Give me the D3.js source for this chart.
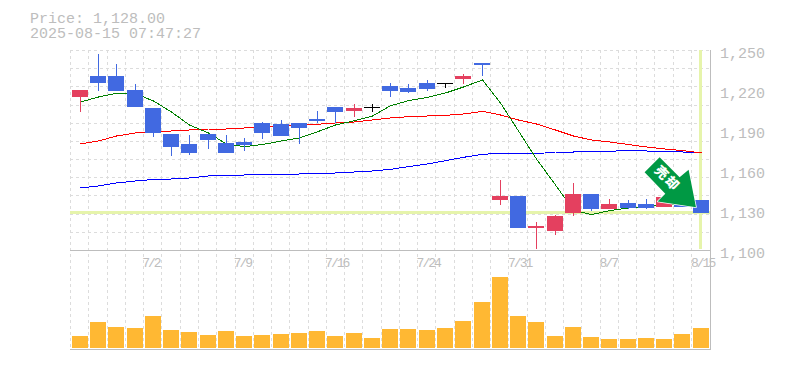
<!DOCTYPE html>
<html><head><meta charset="utf-8">
<style>html,body{margin:0;padding:0;background:#fff}svg{display:block}</style>
<script src="https://cdn.jsdelivr.net/npm/d3@7"></script></head>
<body><svg id="c" width="785" height="370"></svg>
<script>
const dateLabels = {4:"7/2",9:"7/9",14:"7/16",19:"7/24",24:"7/31",29:"8/7",34:"8/15"};
const open  = [1214.75,1230.5,1230.5,1220,1206.5,1187,1179.5,1187,1180.25,1181,1195.25,1194.5,1195.25,1198.25,1207.25,1204.25,1207.25,1223,1221.5,1225.25,1225.25,1228.25,1240.25,1137.5,1140.5,1116.5,1114.25,1127.75,1142,1130.75,1135.25,1134.5,1132.25,1136,1137.5];
const close = [1220,1225.25,1219.25,1207.25,1187.75,1177.25,1172.75,1182.5,1172.75,1178.75,1187.75,1185.5,1191.5,1196.75,1203.5,1206.5,1207.25,1219.25,1218.5,1220.75,1225.25,1230.5,1238.75,1140.5,1116.5,1118,1125.5,1142,1130.75,1134.5,1131.5,1131.5,1139.75,1132,1128];
const high  = [1220,1247,1239.5,1224.5,1206.5,1187,1186.25,1187,1186.25,1184,1196,1197.5,1195.25,1204.25,1207.25,1209.5,1209.5,1225.25,1224.5,1227.5,1225.25,1232,1240.25,1152.5,1140.5,1121,1126.25,1150.25,1142,1138.25,1137.5,1138.25,1139.75,1136,1137.5];
const low   = [1203.75,1219.5,1219.25,1207.25,1184.75,1170.5,1171.25,1175.75,1172.75,1174.25,1183.25,1185.5,1179.5,1195.25,1195.25,1199.75,1203.5,1214.75,1217.75,1219.25,1221.5,1224.5,1230.5,1133.75,1116.5,1100.75,1111.25,1125.5,1129.25,1130.75,1130.75,1130.75,1132.25,1132,1128];
const maShort = [1211,1214.75,1217.5,1217.2,1211.75,1203.5,1193.75,1187.75,1179.5,1177.5,1179.1,1181.75,1184,1188.7,1193.75,1197,1200.5,1208.2,1212,1214.5,1217.75,1222.25,1227.5,1210.25,1189.25,1168.25,1148.75,1130,1126.5,1129.5,1131.5,1132.25,1134.5,1134.5,1135.25];
const maMid   = [1179.5,1181.75,1185.5,1187.75,1188.7,1189.25,1190,1190.75,1190.75,1191.5,1192.25,1193,1194,1194.3,1195.25,1196,1197.5,1199,1200,1200.5,1201,1202,1204,1201.25,1197.5,1194.5,1190,1185.5,1182.5,1181,1179.1,1177.25,1175.75,1174.6,1172.75];
const maLong  = [1146.5,1148,1150.25,1151.75,1152.9,1153.25,1154,1155.5,1155.9,1156.25,1156.4,1156.6,1157,1157.4,1157.75,1158.5,1159.25,1160.5,1162.5,1164.5,1167,1169.5,1171.75,1172.5,1172.4,1172.2,1173.5,1173.5,1174,1174,1174.75,1174.25,1173.9,1173.5,1172.75];
const volume  = [12,26,21,20,32,18,16,13,17,12,13,14,15,17,12,15,10,19,19,18,20,27,46,71,32,26,12,21,11,9,9,10,9,14,20];
const priceTicks = [1100,1130,1160,1190,1220,1250];
const lastPrice = 1128;
const titleLines = ["Price: 1,128.00","2025-08-15 07:47:27"];
const signalText = "売却";

const MONO = '"Liberation Mono", monospace';
const GREY = "#bdbdbd", GRID = "#dcdcdc", HILITE = "#e6f4ab";
const UP = "#e4405f", DOWN = "#4169e1", FLAT = "#000";

const svg = d3.select("#c");
const idx = d3.range(open.length);
const x = d3.scaleBand().domain(idx).range([70.67, 709.77]);
const y = d3.scaleLinear().domain([1100,1250]).range([250,50]);
const v = d3.scaleLinear().domain([0,100]).range([348,248]);
const left = i => Math.round(x(i) + 1.13);
const mid  = i => left(i) + 8.5;

// grid
const grid = svg.append("g").attr("stroke",GRID).attr("stroke-dasharray","3 3").attr("shape-rendering","crispEdges");
grid.selectAll("line.h").data(d3.range(12)).join("line").attr("class","h")
  .attr("x1",70).attr("x2",710)
  .attr("y1",k=>Math.round(y(1100+k*150/11))+.5).attr("y2",k=>Math.round(y(1100+k*150/11))+.5);
grid.selectAll("line.v").data(idx).join("line").attr("class","v")
  .attr("y1",50).attr("y2",350)
  .attr("x1",i=>Math.floor(x(i))+.5).attr("x2",i=>Math.floor(x(i))+.5);

// highlights for the last price and last date
const hl = svg.append("g").attr("stroke",HILITE).attr("stroke-width",3).attr("shape-rendering","crispEdges");
hl.append("line").attr("x1",70).attr("x2",710)
  .attr("y1",Math.floor(y(lastPrice))+.5).attr("y2",Math.floor(y(lastPrice))+.5);
hl.append("line").attr("x1",mid(34)-1).attr("x2",mid(34)-1).attr("y1",50).attr("y2",249);

// moving averages
const line = d3.line().x((d,i)=>mid(i)).y(d=>y(d));
[[maLong,"#0000ff"],[maMid,"#ff0000"],[maShort,"#008000"]].forEach(([s,c])=>{
  svg.append("path").attr("d",line(s)).attr("fill","none").attr("stroke",c)
    .attr("shape-rendering","crispEdges");
});

// candles
const colorOf = i => close[i]>open[i]?UP:close[i]<open[i]?DOWN:FLAT;
const cg = svg.append("g").attr("shape-rendering","crispEdges");
cg.selectAll("line").data(idx).join("line")
  .attr("x1",mid).attr("x2",mid)
  .attr("y1",i=>y(high[i])).attr("y2",i=>y(low[i]))
  .attr("stroke",colorOf);
cg.selectAll("rect").data(idx).join("rect")
  .attr("x",left).attr("width",16)
  .attr("y",i=>Math.round(y(Math.max(open[i],close[i]))))
  .attr("height",i=>close[i]===open[i]?1:Math.round(Math.abs(y(open[i])-y(close[i]))))
  .attr("fill",colorOf);

// volume
svg.append("g").attr("shape-rendering","crispEdges").selectAll("rect").data(idx).join("rect")
  .attr("x",left).attr("width",16)
  .attr("y",i=>v(volume[i])).attr("height",i=>v(0)-v(volume[i]))
  .attr("fill","#ffb833");

// frame
const fr = svg.append("g").attr("stroke",GREY).attr("shape-rendering","crispEdges");
fr.append("line").attr("x1",70).attr("x2",711).attr("y1",250.5).attr("y2",250.5);
fr.append("line").attr("x1",70).attr("x2",711).attr("y1",349.5).attr("y2",349.5);
fr.append("line").attr("x1",710.5).attr("x2",710.5).attr("y1",50).attr("y2",350);

// axes
const ya = svg.append("g").attr("transform","translate(710,0)")
  .call(d3.axisRight(y).tickValues(priceTicks).tickFormat(d3.format(",")).tickSize(0).tickPadding(10));
ya.select(".domain").remove();
ya.selectAll("text").attr("font-family",MONO).attr("font-size",15).attr("fill",GREY).attr("dy",7.3);

const xa = svg.append("g").attr("transform","translate(0,250)")
  .call(d3.axisBottom(d3.scalePoint().domain(idx).range([mid(0)-.5,mid(34)+.5]))
    .tickValues(Object.keys(dateLabels).map(Number)).tickFormat(i=>dateLabels[i]).tickSize(0).tickPadding(0));
xa.select(".domain").remove();
xa.selectAll("text").attr("font-family",MONO).attr("font-size",13).attr("letter-spacing","-2px")
  .attr("fill",GREY).attr("dy",0).attr("y",17).attr("x",-11.5).attr("text-anchor","start");

// title
svg.selectAll("text.t").data(titleLines).join("text").attr("class","t")
  .attr("x",30).attr("y",(d,i)=>23+i*14.5).attr("font-family",MONO).attr("font-size",15).attr("fill",GREY)
  .text(d=>d);

// signal arrow
const a = svg.append("g").attr("transform",`translate(${mid(34)-5.5},${y(lastPrice)-5.5})`);
a.append("path").attr("d","M-36.4,-50L-51.4,-35L-30.7,-13.3L-38.4,-5.6L0,0L-7.4,-37.3L-16.4,-30Z")
  .attr("fill","#009944").attr("stroke","#fff").attr("stroke-width",1.5).attr("stroke-linejoin","round").attr("paint-order","stroke");
a.append("text").attr("transform","translate(-28.5,-28.5) rotate(45)").attr("text-anchor","middle").attr("y",4.5)
  .attr("font-family",'"Noto Sans CJK JP"').attr("font-weight",900).attr("font-size",13).attr("letter-spacing","2px")
  .attr("fill","#fff").text(signalText);
</script></body></html>
